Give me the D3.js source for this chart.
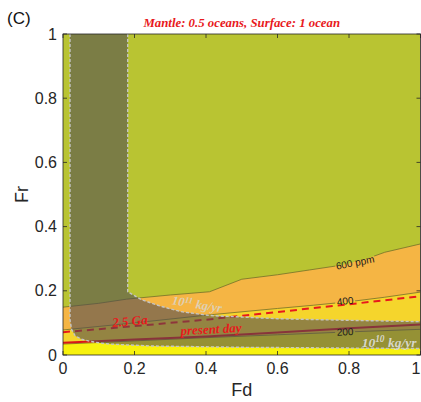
<!DOCTYPE html>
<html><head><meta charset="utf-8">
<script src="https://cdn.jsdelivr.net/npm/d3@7"></script>
<style>
html,body{margin:0;padding:0;background:#fff;}
svg{display:block;}
</style></head>
<body>
<svg id="chart" width="421" height="402"></svg>
<script>
// ---------- data (Fd, Fr) ----------
const xTicks = [0, 0.2, 0.4, 0.6, 0.8, 1];
const yTicks = [0, 0.2, 0.4, 0.6, 0.8, 1];
const xTickLabels = ["0", "0.2", "0.4", "0.6", "0.8", "1"];
const yTickLabels = ["0", "0.2", "0.4", "0.6", "0.8", "1"];

// CO2 contours (ppm)
const contour600 = [[0,0.149],[0.1,0.161],[0.178,0.174],[0.3,0.187],[0.41,0.197],[0.5,0.236],[0.6,0.25],[0.69,0.265],[0.78,0.28],[0.85,0.3],[0.9,0.32],[1,0.346]];
const contour400 = [[0,0.078],[0.2,0.1],[0.4,0.124],[0.6,0.145],[0.7,0.155],[0.8,0.166],[0.9,0.18],[1,0.196]];
const contour200 = [[0,0.034],[0.2,0.044],[0.4,0.054],[0.6,0.063],[0.8,0.072],[1,0.08]];

// degassing flux contours
const flux1e10 = [[0.0196,1],[0.0196,0.11],[0.024,0.08],[0.034,0.06],[0.052,0.049],[0.075,0.043],[0.1,0.038],[0.13,0.034],[0.25,0.028],[0.5,0.024],[0.75,0.022],[1,0.02]];
const flux1e11 = [[0.181,1],[0.181,0.197],[0.22,0.172],[0.27,0.153],[0.33,0.135],[0.41,0.123],[0.6,0.113],[0.8,0.108],[1,0.104]];

// Fr evolution lines
const ga25 = [[0,0.071],[0.2,0.09],[0.4,0.11],[0.6,0.134],[0.8,0.158],[1,0.183]];
const presentDay = [[0,0.038],[0.2,0.048],[0.4,0.058],[0.6,0.07],[0.8,0.083],[1,0.095]];

// ---------- layout ----------
const svg = d3.select("#chart");
const L = 63, R = 420.5, T = 34, B = 355;
const x = d3.scaleLinear().domain([0,1]).range([L,R]);
const y = d3.scaleLinear().domain([0,1]).range([B,T]);

const defs = svg.append("defs");
defs.append("clipPath").attr("id","plotclip").append("rect")
  .attr("x",L).attr("y",T).attr("width",R-L).attr("height",B-T);

const plot = svg.append("g").attr("clip-path","url(#plotclip)");

const C_GREEN = "#b9c432", C_ORANGE = "#f5b544", C_YEL = "#f5d52c", C_BYEL = "#f7f20e";

plot.append("rect").attr("x",L).attr("y",T).attr("width",R-L).attr("height",B-T).attr("fill",C_GREEN);

const area = d3.area().x(d=>x(d[0])).y0(y(0)).y1(d=>y(d[1]));
const line = d3.line().x(d=>x(d[0])).y(d=>y(d[1]));

plot.append("path").datum(contour600).attr("d",area).attr("fill",C_ORANGE);
plot.append("path").datum(contour400).attr("d",area).attr("fill",C_YEL);
plot.append("path").datum(contour200).attr("d",area).attr("fill",C_BYEL);

// label definitions for contour labels (data-space anchor)
const contourLabels = [
  {t:"600 ppm", p:[0.817,0.288], a:-11, w:40},
  {t:"400", p:[0.789,0.168], a:-6, w:20},
  {t:"200", p:[0.789,0.072], a:-3, w:20}
];

// mask to break contour lines at labels
const mask = defs.append("mask").attr("id","lblmask");
mask.append("rect").attr("x",0).attr("y",0).attr("width",421).attr("height",402).attr("fill","#fff");
contourLabels.forEach(l=>{
  mask.append("rect")
    .attr("x",-l.w/2).attr("y",-5).attr("width",l.w).attr("height",10)
    .attr("fill","#000")
    .attr("transform",`translate(${x(l.p[0])},${y(l.p[1])}) rotate(${l.a})`);
});

const cl = plot.append("g").attr("mask","url(#lblmask)");
[contour600, contour400, contour200].forEach(c=>{
  cl.append("path").datum(c).attr("d",line).attr("fill","none")
    .attr("stroke","#74702a").attr("stroke-width",0.8);
});

// red lines
plot.append("path").datum(ga25).attr("d",line).attr("fill","none")
  .attr("stroke","#e8191c").attr("stroke-width",2).attr("stroke-dasharray","7,5");
plot.append("path").datum(presentDay).attr("d",line).attr("fill","none")
  .attr("stroke","#d8161a").attr("stroke-width",2);

// grey flux band
const band = flux1e10.concat(flux1e11.slice().reverse());
plot.append("path").datum(band)
  .attr("d", d3.line().x(d=>x(d[0])).y(d=>y(d[1])).curve(d3.curveLinearClosed))
  .attr("fill","rgb(78,74,82)").attr("fill-opacity",0.58);
[flux1e10, flux1e11].forEach(c=>{
  plot.append("path").datum(c).attr("d",line).attr("fill","none")
    .attr("stroke","#c4c4c4").attr("stroke-width",1.4).attr("stroke-dasharray","3,2");
});

// contour labels
contourLabels.forEach(l=>{
  plot.append("text").text(l.t)
    .attr("transform",`translate(${x(l.p[0])},${y(l.p[1])}) rotate(${l.a})`)
    .attr("text-anchor","middle").attr("dy","0.35em")
    .attr("font-family","Liberation Sans, Arial, sans-serif").attr("font-size",10)
    .attr("fill","#1a1a1a");
});

const serif = "Liberation Serif, 'DejaVu Serif', serif";
function annot(g, p, ang, size, fill, parts, opacity){
  const t = g.append("text")
    .attr("transform",`translate(${x(p[0])},${y(p[1])}) rotate(${ang})`)
    .attr("text-anchor","middle").attr("dy","0.35em")
    .attr("font-family",serif).attr("font-style","italic").attr("font-weight","bold")
    .attr("font-size",size).attr("fill",fill).attr("fill-opacity",opacity||1);
  parts.forEach(pt=>{
    const s = t.append("tspan").text(pt.t);
    if (pt.sup) s.attr("font-size",size*0.7).attr("dy","-0.45em");
    if (pt.down) s.attr("dy","0.32em");
  });
  return t;
}
annot(plot,[0.187,0.106],-5,13,"#e8191c",[{t:"2.5 Ga"}]);
annot(plot,[0.414,0.081],-3,13,"#e8191c",[{t:"present day"}]);
annot(plot,[0.375,0.159],9,12.5,"#d8d6cc",[{t:"10"},{t:"11",sup:true},{t:" kg/yr",down:true}],0.85);
annot(plot,[0.912,0.041],0,13.5,"#dcdcd4",[{t:"10"},{t:"10",sup:true},{t:" kg/yr",down:true}],0.95);

// ---------- axes / frame ----------
const ax = svg.append("g");
ax.append("rect").attr("x",L).attr("y",T).attr("width",R-L).attr("height",B-T)
  .attr("fill","none").attr("stroke","#262626").attr("stroke-width",0.8);
const tl = 4;
xTicks.forEach((v,i)=>{
  ax.append("line").attr("x1",x(v)).attr("x2",x(v)).attr("y1",B).attr("y2",B-tl).attr("stroke","#262626").attr("stroke-width",0.8);
  ax.append("line").attr("x1",x(v)).attr("x2",x(v)).attr("y1",T).attr("y2",T+tl).attr("stroke","#262626").attr("stroke-width",0.8);
  const last = i === xTicks.length-1;
  ax.append("text").text(xTickLabels[i]).attr("x",last ? 420.5 : x(v)).attr("y",B+19)
    .attr("text-anchor",last ? "end" : "middle").attr("font-family","Liberation Sans, Arial, sans-serif")
    .attr("font-size",16).attr("fill","#262626");
});
yTicks.forEach((v,i)=>{
  ax.append("line").attr("x1",L).attr("x2",L+tl).attr("y1",y(v)).attr("y2",y(v)).attr("stroke","#262626").attr("stroke-width",0.8);
  ax.append("line").attr("x1",R).attr("x2",R-tl).attr("y1",y(v)).attr("y2",y(v)).attr("stroke","#262626").attr("stroke-width",0.8);
  ax.append("text").text(yTickLabels[i]).attr("x",L-6).attr("y",y(v)).attr("dy","0.35em")
    .attr("text-anchor","end").attr("font-family","Liberation Sans, Arial, sans-serif")
    .attr("font-size",16).attr("fill","#262626");
});
svg.append("text").text("Fd").attr("x",(L+R)/2).attr("y",396)
  .attr("text-anchor","middle").attr("font-family","Liberation Sans, Arial, sans-serif")
  .attr("font-size",18).attr("fill","#262626");
svg.append("text").text("Fr").attr("transform",`translate(28,${(T+B)/2}) rotate(-90)`)
  .attr("text-anchor","middle").attr("font-family","Liberation Sans, Arial, sans-serif")
  .attr("font-size",18).attr("fill","#262626");
svg.append("text").text("(C)").attr("x",7).attr("y",24)
  .attr("font-family","Liberation Sans, Arial, sans-serif").attr("font-size",17).attr("fill","#111");

// title
const title = svg.append("text").attr("x",(L+R)/2).attr("y",27).attr("text-anchor","middle")
  .attr("font-family",serif).attr("font-style","italic").attr("font-weight","bold")
  .attr("font-size",12.8).attr("fill","#e8191c");
title.text("Mantle: 0.5 oceans, Surface: 1 ocean");
</script>
</body></html>
